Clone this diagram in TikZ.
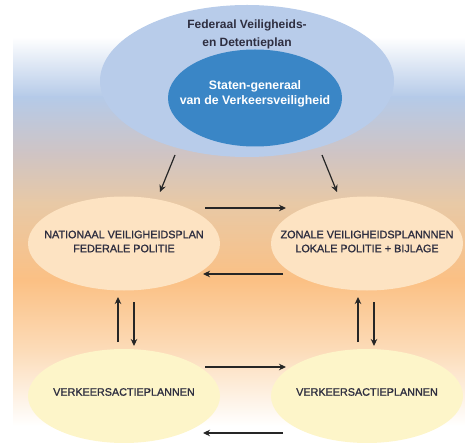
\documentclass[tikz,border=0pt]{standalone}
\usepackage{fontspec}
\setmainfont{Liberation Sans}
\newfontfamily\capfont[FakeBold=1.2]{Liberation Sans}
\usetikzlibrary{arrows.meta,shapes.geometric}
\definecolor{bgblue}{HTML}{B5CAE8}
\definecolor{bggray}{HTML}{CFC4C4}
\definecolor{bgtan}{HTML}{E8C9A6}
\definecolor{bgorange}{HTML}{FBC084}
\definecolor{bgpeach}{HTML}{FCDDBB}
\definecolor{outerblue}{HTML}{B8CCEA}
\definecolor{innerblue}{HTML}{3A86C6}
\definecolor{midfill}{HTML}{FDE3C2}
\definecolor{lowfill}{HTML}{FDF5C9}
\definecolor{txtdark}{HTML}{2E2E40}
\begin{document}
\begin{tikzpicture}[x=1pt,y=-1pt,
  ell/.style={ellipse, inner sep=0pt, draw=none},
  outerell/.style={ell, fill=outerblue, minimum width=294pt, minimum height=152pt},
  innerell/.style={ell, fill=innerblue, minimum width=174pt, minimum height=97pt},
  midell/.style={ell, fill=midfill, minimum width=192pt, minimum height=94pt},
  lowell/.style={ell, fill=lowfill, minimum width=192pt, minimum height=94pt},
  toptxt/.style={align=center, text=txtdark, inner sep=0pt, font=\fontsize{12}{18}\selectfont\bfseries},
  innertxt/.style={align=center, text=white, inner sep=0pt, font=\fontsize{12.3}{15}\selectfont\bfseries},
  captxt/.style={align=center, text=txtdark, inner sep=0pt, font=\capfont\fontsize{10.8}{14}\selectfont},
  arr/.style={-{Stealth[length=7pt,width=6.5pt]}, line width=1.2pt, black!85}
]
\useasboundingbox (0,0) rectangle (465,443);
% background gradient
\shade[top color=white, bottom color=bgblue] (13,37) rectangle (465,97.5);
\shade[top color=bgblue, bottom color=bggray] (13,97) rectangle (465,153.5);
\shade[top color=bggray, bottom color=bgtan] (13,153) rectangle (465,203.5);
\shade[top color=bgtan, bottom color=bgorange] (13,203) rectangle (465,280.5);
\shade[top color=bgorange, bottom color=bgpeach] (13,280) rectangle (465,353.5);
\shade[top color=bgpeach, bottom color=white] (13,353) rectangle (465,426);

% top ellipses
\node[outerell] (outer) at (247,81) {};
\node[innerell] (inner) at (255,98) {};
\node[toptxt] (outerT) at (247,34) {Federaal Veiligheids-\\en Detentieplan};
\node[innertxt] (innerT) at (255,94) {Staten-generaal\\van de Verkeersveiligheid};

% middle ellipses
\node[midell] (nat) at (124,243.5) {};
\node[midell] (zon) at (367,243.5) {};
\node[captxt] (natT) at (124,241.5) {NATIONAAL VEILIGHEIDSPLAN\\FEDERALE POLITIE};
\node[captxt] (zonT) at (367,241.5) {ZONALE VEILIGHEIDSPLANNNEN\\LOKALE POLITIE + BIJLAGE};

% bottom ellipses
\node[lowell] (vl) at (124,396) {};
\node[lowell] (vr) at (367,396) {};
\node[captxt] (vlT) at (124,392) {VERKEERSACTIEPLANNEN};
\node[captxt] (vrT) at (367,392) {VERKEERSACTIEPLANNEN};

% arrow end points
\coordinate (oL1) at (175,155); \coordinate (oL2) at (160,192);
\coordinate (oR1) at (322,155); \coordinate (oR2) at (337,192);
\coordinate (m1a) at (205,208); \coordinate (m1b) at (286,208);
\coordinate (m2a) at (283,274); \coordinate (m2b) at (203,274);
\coordinate (lu1) at (118,342); \coordinate (lu2) at (118,297);
\coordinate (ld1) at (134,302); \coordinate (ld2) at (134,346);
\coordinate (ru1) at (358,342); \coordinate (ru2) at (358,297);
\coordinate (rd1) at (374,302); \coordinate (rd2) at (374,346);
\coordinate (b1a) at (205,367); \coordinate (b1b) at (286,367);
\coordinate (b2a) at (283,433); \coordinate (b2b) at (203,433);

\draw[arr] (oL1) -- (oL2);
\draw[arr] (oR1) -- (oR2);
\draw[arr] (m1a) -- (m1b);
\draw[arr] (m2a) -- (m2b);
\draw[arr] (lu1) -- (lu2);
\draw[arr] (ld1) -- (ld2);
\draw[arr] (ru1) -- (ru2);
\draw[arr] (rd1) -- (rd2);
\draw[arr] (b1a) -- (b1b);
\draw[arr] (b2a) -- (b2b);
\end{tikzpicture}
\end{document}
